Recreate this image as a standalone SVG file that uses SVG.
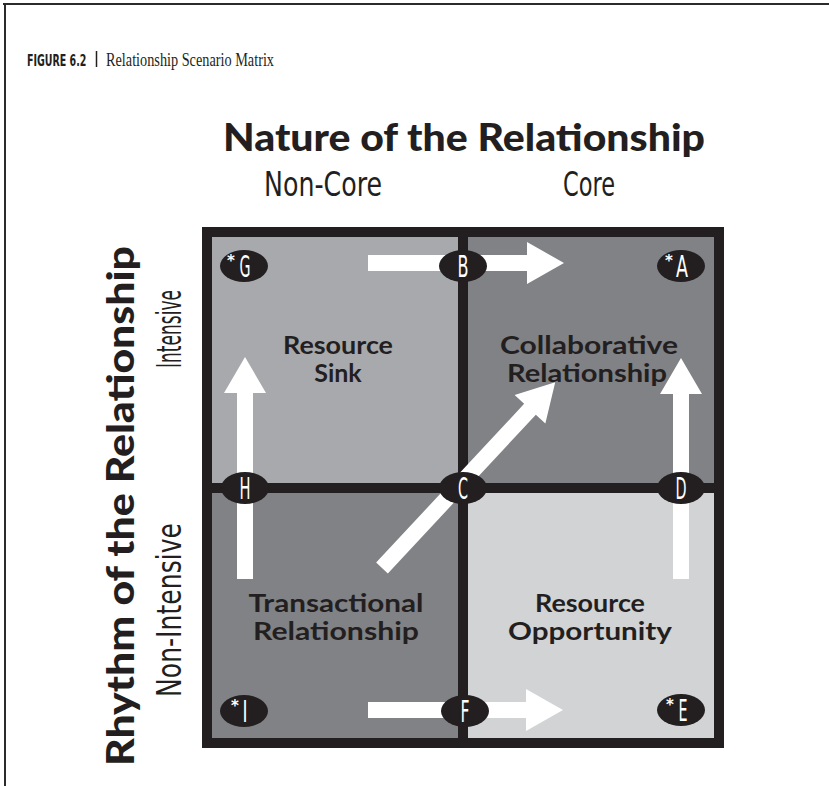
<svg xmlns="http://www.w3.org/2000/svg" width="829" height="786" viewBox="0 0 829 786">
<defs>
<style>
.frame{stroke:#2b2b2b;stroke-width:2;fill:none}
.grid{stroke:#231f20;stroke-width:10;fill:none}
.arrow{fill:#ffffff;stroke:none}
.badge ellipse{fill:#231f20}
.lt{font-family:"DejaVu Sans Condensed","DejaVu Sans",sans-serif;font-stretch:condensed;fill:#ffffff;font-size:30px;text-anchor:middle}
.ast{font-family:"DejaVu Sans",sans-serif;fill:#ffffff;font-size:15px;font-weight:bold;text-anchor:middle}
.ql{font-family:Lato,"Open Sans",sans-serif;font-weight:bold;font-size:25px;fill:#231f20;text-anchor:middle}
.axis{font-family:"DejaVu Sans Condensed","DejaVu Sans",sans-serif;font-stretch:condensed;font-size:33px;fill:#231f20;text-anchor:middle}
.ttl{font-family:Lato,"Open Sans",sans-serif;font-weight:900;font-size:37px;fill:#231f20;text-anchor:middle}
</style>
</defs>
<rect width="829" height="786" fill="#ffffff"/>
<g id="frame">
<line class="frame" x1="3" y1="4" x2="829" y2="4"/>
<line class="frame" x1="5" y1="3" x2="5" y2="786"/>
</g>
<g id="caption">
<text transform="translate(27,66) scale(0.66,1)" font-family="'DejaVu Sans Condensed','DejaVu Sans',sans-serif" font-weight="bold" font-size="16" fill="#231f20">FIGURE 6.2</text>
<line x1="96.5" y1="51" x2="96.5" y2="67" stroke="#231f20" stroke-width="1.5"/>
<text x="106" y="66" font-family="'Liberation Serif',serif" font-size="18" fill="#231f20" textLength="168" lengthAdjust="spacingAndGlyphs">Relationship Scenario Matrix</text>
</g>
<g id="axis-labels">
<text class="ttl" x="464" y="151" textLength="482" lengthAdjust="spacingAndGlyphs">Nature of the Relationship</text>
<text class="axis" x="323" y="196" textLength="118" lengthAdjust="spacingAndGlyphs">Non-Core</text>
<text class="axis" x="589" y="196" textLength="52" lengthAdjust="spacingAndGlyphs">Core</text>
<text class="ttl" transform="translate(134,506) rotate(-90)" textLength="520" lengthAdjust="spacingAndGlyphs">Rhythm of the Relationship</text>
<text class="axis" transform="translate(181,329) rotate(-90)" textLength="78" lengthAdjust="spacingAndGlyphs">Intensive</text>
<text class="axis" transform="translate(181,610) rotate(-90)" textLength="174" lengthAdjust="spacingAndGlyphs">Non-Intensive</text>
</g>
<g id="quadrants">
<rect id="q-sink" x="207" y="232" width="256" height="256" fill="#a7a9ac"/>
<rect id="q-collab" x="463" y="232" width="256" height="256" fill="#808285"/>
<rect id="q-trans" x="207" y="488" width="256" height="255" fill="#808285"/>
<rect id="q-opp" x="463" y="488" width="256" height="255" fill="#d1d3d4"/>
</g>
<g id="grid">
<rect class="grid" x="207" y="232" width="512" height="511"/>
<line class="grid" x1="463" y1="227" x2="463" y2="748"/>
<line class="grid" x1="202" y1="488" x2="724" y2="488"/>
</g>
<g id="quadrant-labels">
<text class="ql" x="338" y="354" textLength="110" lengthAdjust="spacingAndGlyphs">Resource</text>
<text class="ql" x="338" y="382">Sink</text>
<text class="ql" x="589" y="354" textLength="178" lengthAdjust="spacingAndGlyphs">Collaborative</text>
<text class="ql" x="587" y="382" textLength="160" lengthAdjust="spacingAndGlyphs">Relationship</text>
<text class="ql" x="336" y="612" textLength="175" lengthAdjust="spacingAndGlyphs">Transactional</text>
<text class="ql" x="336" y="640" textLength="166" lengthAdjust="spacingAndGlyphs">Relationship</text>
<text class="ql" x="590" y="612" textLength="110" lengthAdjust="spacingAndGlyphs">Resource</text>
<text class="ql" x="590" y="640" textLength="164" lengthAdjust="spacingAndGlyphs">Opportunity</text>
</g>
<g id="connectors">
<polygon id="arrow-B" class="arrow" points="368,255 527,255 527,242 564,263 527,284 527,271 368,271"/>
<polygon id="arrow-F" class="arrow" points="368,702 526,702 526,689 563,710 526,731 526,718 368,718"/>
<polygon id="arrow-H" class="arrow" points="237,579 237,393 224,393 245,357 266,393 253,393 253,579"/>
<polygon id="arrow-D" class="arrow" points="673,579 673,394 660,394 681,358 702,394 689,394 689,579"/>
<polygon id="arrow-C" class="arrow" transform="translate(382,568) rotate(-47)" points="0,-8 217,-8 217,-21 254,0 217,21 217,8 0,8"/>
</g>
<g id="node-G" class="badge"><ellipse cx="244" cy="266" rx="24" ry="16"/><text class="ast" x="231" y="266">*</text><text class="lt" x="245" y="277" textLength="11" lengthAdjust="spacingAndGlyphs">G</text></g>
<g id="node-B" class="badge"><ellipse cx="463" cy="266" rx="24" ry="16"/><text class="lt" x="463" y="277" textLength="11" lengthAdjust="spacingAndGlyphs">B</text></g>
<g id="node-A" class="badge"><ellipse cx="681" cy="266" rx="24" ry="16"/><text class="ast" x="669" y="266">*</text><text class="lt" x="682" y="277" textLength="12" lengthAdjust="spacingAndGlyphs">A</text></g>
<g id="node-H" class="badge"><ellipse cx="245" cy="488" rx="24" ry="16"/><text class="lt" x="245" y="499" textLength="11" lengthAdjust="spacingAndGlyphs">H</text></g>
<g id="node-C" class="badge"><ellipse cx="463" cy="488" rx="24" ry="16"/><text class="lt" x="463" y="499" textLength="10" lengthAdjust="spacingAndGlyphs">C</text></g>
<g id="node-D" class="badge"><ellipse cx="681" cy="488" rx="24" ry="16"/><text class="lt" x="681" y="499" textLength="11" lengthAdjust="spacingAndGlyphs">D</text></g>
<g id="node-I" class="badge"><ellipse cx="244" cy="711" rx="24" ry="16"/><text class="ast" x="235" y="711">*</text><text class="lt" x="245" y="722" textLength="5" lengthAdjust="spacingAndGlyphs">I</text></g>
<g id="node-F" class="badge"><ellipse cx="465" cy="711" rx="24" ry="16"/><text class="lt" x="465" y="722" textLength="9" lengthAdjust="spacingAndGlyphs">F</text></g>
<g id="node-E" class="badge"><ellipse cx="681" cy="710" rx="24" ry="16"/><text class="ast" x="670" y="710">*</text><text class="lt" x="683" y="721" textLength="9" lengthAdjust="spacingAndGlyphs">E</text></g>
</svg>
